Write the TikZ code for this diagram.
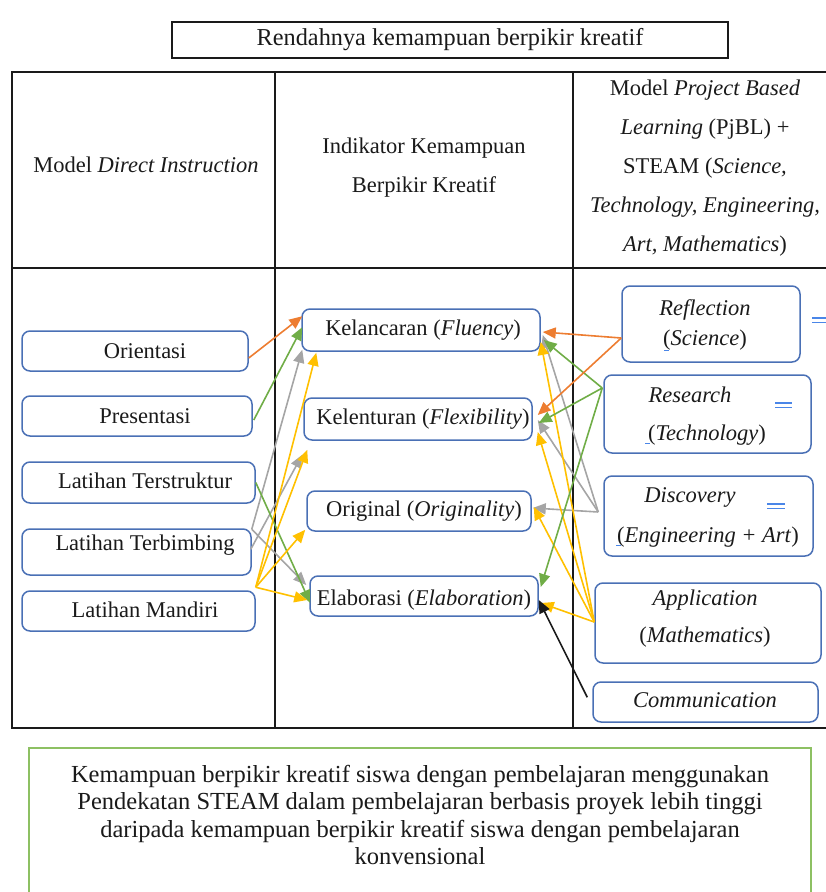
\documentclass[tikz,border=0pt]{standalone}
\usepackage{fontspec}
\setmainfont{Liberation Serif}
\usetikzlibrary{arrows.meta,calc}
\definecolor{boxblue}{HTML}{4A70B5}
\definecolor{aorange}{HTML}{ED7D31}
\definecolor{agreen}{HTML}{70AD47}
\definecolor{agray}{HTML}{A5A5A5}
\definecolor{ayellow}{HTML}{FFC000}
\definecolor{cgreen}{HTML}{8DC063}
\definecolor{mblue}{HTML}{4A86E8}
\definecolor{ink}{HTML}{1A1A1A}
\tikzset{
  rbox/.style={draw=boxblue, line width=1.5pt, rounded corners=8pt, inner sep=0pt, anchor=center},
  txt/.style={inner sep=0pt, text=ink, font=\fontsize{22.5}{27}\selectfont},
  arr/.style={line width=1.6pt, -{Triangle[length=13pt,width=11pt]}},
  tline/.style={line width=1.3pt, draw=ink},
  eqmark/.style={draw=mblue, line width=1.2pt}
}
\begin{document}
\begin{tikzpicture}[x=1pt,y=-1pt]
\useasboundingbox (0,0) rectangle (826,892);
\clip (0,0) rectangle (826,892);

% title
\node[draw=ink, line width=1.2pt, minimum width=556pt, minimum height=36pt, inner sep=0pt] (title) at (450,40) {};
\node[txt, font=\fontsize{24.3}{28}\selectfont] (titleT) at (450,40) {Rendahnya kemampuan berpikir kreatif};

% table
\draw[tline] (12,72) rectangle (840,728);
\draw[tline] (12,268) -- (840,268);
\draw[tline] (275,72) -- (275,728);
\draw[tline] (573,72) -- (573,728);

% headers
\node[txt] (hL) at (146,165) {Model \textit{Direct Instruction}};
\node[txt, align=center, font=\fontsize{22.5}{39}\selectfont] (hM) at (424,167.5) {Indikator Kemampuan\\Berpikir Kreatif};
\node[txt, align=center, font=\fontsize{22.5}{39}\selectfont] (hR) at (705,168.5) {Model \textit{Project Based}\\\textit{Learning} (PjBL) +\\STEAM (\textit{Science,}\\\textit{Technology, Engineering,}\\\textit{Art, Mathematics})};

% left boxes
\node[rbox, minimum width=226pt, minimum height=40pt] (orient) at (135,351) {};
\node[rbox, minimum width=230pt, minimum height=40pt] (presen) at (137,416) {};
\node[rbox, minimum width=233pt, minimum height=41pt] (terstr) at (138.5,482.5) {};
\node[rbox, minimum width=229pt, minimum height=46pt] (terbim) at (136.5,552) {};
\node[rbox, minimum width=233pt, minimum height=40pt] (mandiri) at (138.5,611) {};
\node[txt] (orientT) at (145,351) {Orientasi};
\node[txt] (presenT) at (145,416) {Presentasi};
\node[txt] (terstrT) at (145,481) {Latihan Terstruktur};
\node[txt] (terbimT) at (145,545) {Latihan Terbimbing};
\node[txt] (mandiriT) at (145,610) {Latihan Mandiri};

% middle boxes
\node[rbox, minimum width=238pt, minimum height=42pt] (kel) at (421,330) {};
\node[rbox, minimum width=228pt, minimum height=42pt] (flex) at (418,419) {};
\node[rbox, minimum width=224pt, minimum height=40pt] (orig) at (419,511) {};
\node[rbox, minimum width=228pt, minimum height=40pt] (elab) at (424,596) {};
\node[txt] (kelT) at (423,330) {Kelancaran (\textit{Fluency})};
\node[txt] (flexT) at (423,419) {Kelenturan (\textit{Flexibility})};
\node[txt] (origT) at (424,511) {Original (\textit{Originality})};
\node[txt] (elabT) at (424,600) {Elaborasi (\textit{Elaboration})};

% right boxes
\node[rbox, minimum width=178pt, minimum height=76pt] (refl) at (711,324) {};
\node[rbox, minimum width=207pt, minimum height=78pt] (resea) at (707.5,414) {};
\node[rbox, minimum width=209pt, minimum height=80pt] (disc) at (708.5,516) {};
\node[rbox, minimum width=226pt, minimum height=80pt] (appl) at (708,623) {};
\node[rbox, minimum width=225pt, minimum height=40pt] (comm) at (705.5,702) {};
\node[txt] (reflT1) at (705,310) {\textit{Reflection}};
\node[txt] (reflT2) at (705,340) {(\textit{Science})};
\node[txt] (reseaT1) at (690,395) {\textit{Research}};
\node[txt] (reseaT2) at (707,435) {(\textit{Technology})};
\node[txt] (discT1) at (690,497) {\textit{Discovery}};
\node[txt] (discT2) at (708,537) {(\textit{Engineering + Art})};
\node[txt] (applT1) at (705,600) {\textit{Application}};
\node[txt] (applT2) at (705,637) {(\textit{Mathematics})};
\node[txt] (commT) at (705,700) {\textit{Communication}};

% blue edit marks
\draw[eqmark] (812,318) -- (828,318) (812,322.5) -- (828,322.5);
\draw[eqmark] (775,403) -- (792,403) (775,407.5) -- (792,407.5);
\draw[eqmark] (767,504) -- (785,504) (767,508.5) -- (785,508.5);
\draw[eqmark, line width=0.9pt] (664,350) -- (669,350);
\draw[eqmark, line width=0.9pt] (645,443) -- (650,443);
\draw[eqmark, line width=0.9pt] (616,545) -- (621,545);

% left connectors
\draw[arr, aorange] ($(orient.east)+(0,7)$) -- ($(kel.north west)+(1,8)$);
\draw[arr, agreen] ($(presen.east)+(1,4)$) -- ($(kel.north west)+(1,19)$);
\draw[arr, agray] ($(terbim.north east)+(0,1)$) -- ($(kel.south west)+(1,-2)$);
\draw[arr, agray] ($(terbim.north east)+(-1,21)$) -- ($(flex.south west)+(-1,14)$);
\draw[arr, agray] ($(terbim.north east)+(0,1)$) -- ($(elab.west)+(-3,-11)$);
\draw[arr, agreen] (terstr.east) -- ($(elab.west)+(1,7)$);
\draw[arr, ayellow] ($(mandiri.north east)+(0,-3)$) -- ($(kel.south west)+(15,1)$);
\draw[arr, ayellow] ($(mandiri.north east)+(0,-3)$) -- ($(flex.south west)+(4,9)$);
\draw[arr, ayellow] ($(mandiri.north east)+(0,-3)$) -- ($(orig.south west)+(-1,-2)$);
\draw[arr, ayellow] ($(mandiri.north east)+(0,-3)$) -- ($(elab.west)+(-2,4)$);

% right connectors
\draw[arr, agray] ($(disc.west)+(-5,-4)$) -- ($(kel.east)+(2,5)$);
\draw[arr, agray] ($(disc.west)+(-5,-4)$) -- ($(flex.east)+(5,1)$);
\draw[arr, agray] ($(disc.west)+(-5,-4)$) -- ($(orig.east)+(1,-3)$);
\draw[arr, ayellow] ($(appl.west)+(0,-1)$) -- ($(kel.east)+(0,12)$);
\draw[arr, ayellow] ($(appl.west)+(0,-1)$) -- ($(flex.east)+(5,13)$);
\draw[arr, ayellow] ($(appl.west)+(0,-1)$) -- ($(orig.east)+(2,-4)$);
\draw[arr, ayellow] ($(appl.west)+(0,-1)$) -- ($(elab.east)+(2,7)$);
\draw[arr, agreen] ($(resea.west)+(-1,-26)$) -- ($(kel.east)+(3,10)$);
\draw[arr, agreen] ($(resea.west)+(-1,-26)$) -- ($(flex.east)+(6,4)$);
\draw[arr, agreen] ($(resea.west)+(-1,-26)$) -- ($(elab.east)+(2,-9)$);
\draw[arr, aorange] ($(refl.west)+(0,14)$) -- ($(kel.east)+(2,2)$);
\draw[arr, aorange] ($(refl.west)+(0,14)$) -- ($(flex.east)+(5,-4)$);
\draw[arr, ink] ($(comm.north west)+(-5,16)$) -- ($(elab.east)+(0,4)$);

% conclusion
\node[draw=cgreen, line width=1.4pt, minimum width=782pt, minimum height=164pt, inner sep=0pt] (cbox) at (420,830) {};
\node[txt, align=center, font=\fontsize{24.5}{27.3}\selectfont] (cboxT) at (420,815) {Kemampuan berpikir kreatif siswa dengan pembelajaran menggunakan\\Pendekatan STEAM dalam pembelajaran berbasis proyek lebih tinggi\\daripada kemampuan berpikir kreatif siswa dengan pembelajaran\\konvensional};
\end{tikzpicture}
\end{document}
